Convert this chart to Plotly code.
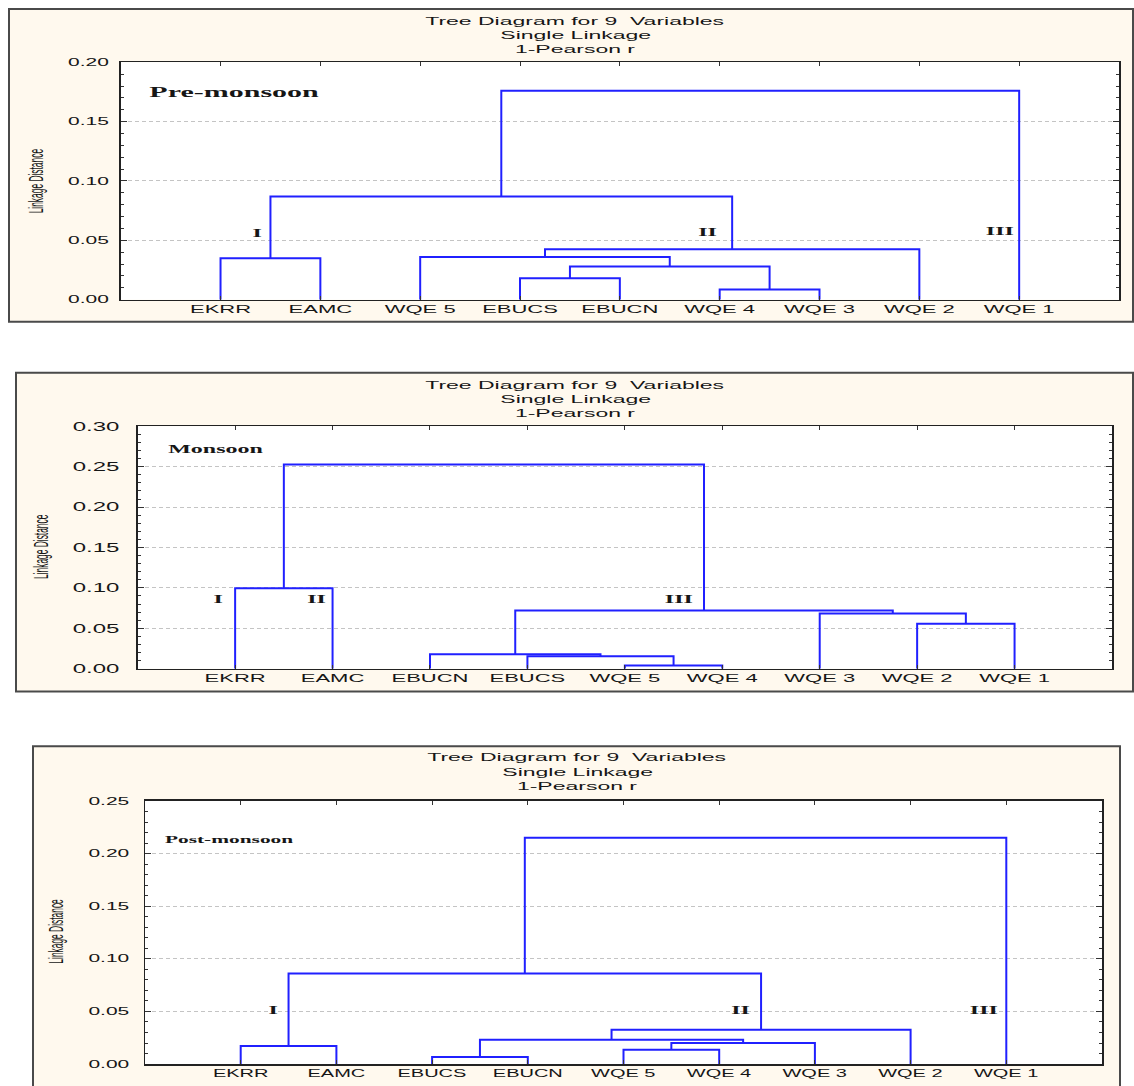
import plotly.graph_objects as go

W, H = 1134, 1086

# ---------------- data ----------------
title_lines = ["Tree Diagram for 9  Variables", "Single Linkage", "1-Pearson r"]
y_title = "Linkage Distance"
cluster_names = ["I", "II", "III"]

# Pre-monsoon (leaf order left -> right); merges reference leaf indices 0..8, then merges 9..
pre_labels = ["EKRR", "EAMC", "WQE 5", "EBUCS", "EBUCN", "WQE 4", "WQE 3", "WQE 2", "WQE 1"]
pre_left = [0, 3, 5, 10, 2, 13, 9, 15]
pre_right = [1, 4, 6, 11, 12, 7, 14, 8]
pre_height = [0.035, 0.018, 0.0087, 0.028, 0.036, 0.0426, 0.087, 0.176]

# Monsoon
mon_labels = ["EKRR", "EAMC", "EBUCN", "EBUCS", "WQE 5", "WQE 4", "WQE 3", "WQE 2", "WQE 1"]
mon_left = [4, 3, 2, 7, 6, 11, 0, 15]
mon_right = [5, 9, 10, 8, 12, 13, 1, 14]
mon_height = [0.004, 0.0155, 0.018, 0.0556, 0.0684, 0.072, 0.0997, 0.2526]

# Post-monsoon
post_labels = ["EKRR", "EAMC", "EBUCS", "EBUCN", "WQE 5", "WQE 4", "WQE 3", "WQE 2", "WQE 1"]
post_left = [2, 4, 10, 9, 12, 0, 14, 15]
post_right = [3, 5, 6, 11, 7, 1, 13, 8]
post_height = [0.0067, 0.0136, 0.020, 0.0232, 0.0326, 0.0171, 0.086, 0.215]

season_names = ["Pre-monsoon", "Monsoon", "Post-monsoon"]
y_max = [0.20, 0.30, 0.25]


def dendro_xy(n, left, right, height):
    xs = {i: i + 1 for i in range(n)}
    hs = {i: 0.0 for i in range(n)}
    X, Y = [], []
    for k, (a, b, h) in enumerate(zip(left, right, height)):
        X += [xs[a], xs[a], xs[b], xs[b], None]
        Y += [hs[a], h, h, hs[b], None]
        xs[n + k] = (xs[a] + xs[b]) / 2.0
        hs[n + k] = h
    return X, Y


# vertical placement calibration (observed offset/scale of the photographed page)
V_OFF, V_SCALE = 7.0, 0.988


def px(x):
    return x / W


def py(y):
    return 1 - ((y - V_OFF) / V_SCALE) / H


panels = [
    dict(labels=pre_labels, left=pre_left, right=pre_right, height=pre_height,
         plot=(120.7, 1119, 62.3, 300), frame=(9, 1133, 9, 322),
         titles_y=(21, 35, 49), title_x=575, season_xy=(234, 92), season_size=15,
         ytitle_xy=(36, 182), standoff=8, yfont=10.5, xfont=11,
         roman=[(1.37, 0.056), (5.88, 0.057), (8.81, 0.058)]),
    dict(labels=mon_labels, left=mon_left, right=mon_right, height=mon_height,
         plot=(137.7, 1112, 426.7, 669.3), frame=(16, 1133, 373, 692),
         titles_y=(385, 399, 413), title_x=575, season_xy=(216, 449), season_size=12,
         ytitle_xy=(41, 548), standoff=14, yfont=12, xfont=11,
         roman=[(0.83, 0.0865), (1.84, 0.0865), (5.56, 0.0865)]),
    dict(labels=post_labels, left=post_left, right=post_right, height=post_height,
         plot=(145, 1102, 801.7, 1065), frame=(33, 1120, 747, 1100),
         titles_y=(758, 773, 787), title_x=577, season_xy=(229, 840), season_size=10.7,
         ytitle_xy=(56, 933), standoff=12, yfont=10.5, xfont=10,
         roman=[(1.34, 0.0516), (6.23, 0.0516), (8.77, 0.0516)]),
]

SANS = "Liberation Sans, Arial, sans-serif"
SERIF = "Liberation Serif, Times New Roman, serif"
TXT = "#161616"

fig = go.Figure()
shapes = []
annotations = []
layout_axes = {}

for i, p in enumerate(panels):
    sfx = "" if i == 0 else str(i + 1)
    X, Y = dendro_xy(len(p["labels"]), p["left"], p["right"], p["height"])
    fig.add_trace(go.Scatter(x=X, y=Y, mode="lines", xaxis="x" + sfx, yaxis="y" + sfx,
                             line=dict(color="#2020ff", width=2), hoverinfo="skip",
                             showlegend=False))
    x0, x1, yt, yb = p["plot"]
    fx0, fx1, fy0, fy1 = p["frame"]
    shapes.append(dict(type="rect", xref="paper", yref="paper", layer="below",
                       x0=px(fx0), x1=px(fx1), y0=py(fy1), y1=py(fy0),
                       fillcolor="#fff9ee", line=dict(color="#4a4a4a", width=2)))
    shapes.append(dict(type="rect", xref="x" + sfx + " domain", yref="y" + sfx + " domain",
                       layer="below", x0=0, x1=1, y0=0, y1=1,
                       fillcolor="white", line=dict(width=0)))
    layout_axes["xaxis" + sfx] = dict(
        domain=[px(x0), px(x1)], anchor="y" + sfx, range=[0, 10],
        tickmode="array", tickvals=list(range(1, len(p["labels"]) + 1)), ticktext=p["labels"],
        tickangle=0, ticks="inside", ticklen=4, tickcolor="#333", tickwidth=1,
        showline=True, linecolor="#222", linewidth=1.5, mirror="ticks",
        showgrid=False, zeroline=False, ticklabelstandoff=-1,
        tickfont=dict(family=SANS, size=p["xfont"], color=TXT))
    layout_axes["yaxis" + sfx] = dict(
        domain=[py(yb), py(yt)], anchor="x" + sfx, range=[0, y_max[i]],
        tick0=0, dtick=0.05, tickformat=".2f",
        ticks="inside", ticklen=6, tickcolor="#333", tickwidth=1,
        minor=dict(dtick=0.01, ticks="inside", ticklen=3, tickcolor="#333", showgrid=False),
        showline=True, linecolor="#222", linewidth=1.5, mirror="ticks",
        showgrid=True, gridcolor="#c4c4c4", gridwidth=1, griddash="4px,3px",
        zeroline=False, ticklabelstandoff=p["standoff"],
        tickfont=dict(family=SANS, size=p["yfont"], color=TXT))
    for line, ty in zip(title_lines, p["titles_y"]):
        annotations.append(dict(text=line, xref="paper", yref="paper",
                                x=px(p["title_x"]), y=py(ty), xanchor="center", yanchor="middle",
                                showarrow=False, font=dict(family=SANS, size=11.5, color=TXT)))
    annotations.append(dict(text=season_names[i], xref="paper", yref="paper",
                            x=px(p["season_xy"][0]), y=py(p["season_xy"][1]),
                            xanchor="center", yanchor="middle", showarrow=False,
                            font=dict(family=SERIF, size=p["season_size"], color=TXT, weight="bold")))
    annotations.append(dict(text=y_title, xref="paper", yref="paper",
                            x=px(p["ytitle_xy"][0]), y=py(p["ytitle_xy"][1]),
                            xanchor="center", yanchor="middle", textangle=-90, showarrow=False,
                            font=dict(family=SANS, size=20, color=TXT)))
    for name, (rx, ry) in zip(cluster_names, p["roman"]):
        annotations.append(dict(text=name, xref="x" + sfx, yref="y" + sfx, x=rx, y=ry,
                                xanchor="center", yanchor="middle", showarrow=False,
                                font=dict(family=SERIF, size=12, color=TXT, weight="bold")))

fig.update_layout(
    width=W, height=H, autosize=False,
    margin=dict(l=0, r=0, t=0, b=0),
    paper_bgcolor="white", plot_bgcolor="white",
    showlegend=False, shapes=shapes, annotations=annotations,
    **layout_axes)

# Pin the figure to the top-left of the page; the reference image is squeezed
# vertically, so horizontal text is stretched and rotated titles are squeezed
# along their length.
post_js = """
(function(){
  var gd = document.getElementById('{plot_id}');
  try {
    document.documentElement.style.margin = '0';
    document.documentElement.style.overflow = 'hidden';
    document.body.style.margin = '0';
    document.body.style.overflow = 'hidden';
    gd.style.position = 'fixed';
    gd.style.left = '0px';
    gd.style.top = '0px';
  } catch (e) {}
  try {
    var texts = gd.querySelectorAll('svg text');
    for (var i = 0; i < texts.length; i++) {
      var t = texts[i];
      var s = t.textContent || '';
      if (!s.trim()) continue;
      var f = (s.indexOf('Linkage') === 0) ? ROT_F : HOR_F;
      var bb = t.getBBox();
      var a = t.getAttribute('text-anchor') || 'start';
      var cx = a === 'middle' ? bb.x + bb.width / 2 : (a === 'end' ? bb.x + bb.width : bb.x);
      var tr = t.getAttribute('transform') || '';
      t.setAttribute('transform', tr + ' translate(' + cx + ',0) scale(' + f + ',1) translate(' + (-cx) + ',0)');
    }
  } catch (e) {}
})();
""".replace("ROT_F", "0.42").replace("HOR_F", "2.0")

fig.write_html("out.html", post_script=post_js,
               config={"staticPlot": True, "responsive": False, "displayModeBar": False})
